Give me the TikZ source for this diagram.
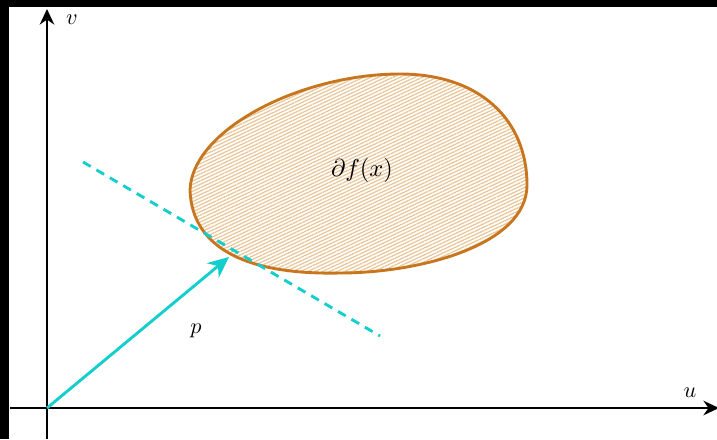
\documentclass[tikz,border=0pt]{standalone}
\usetikzlibrary{arrows.meta,patterns.meta}
\definecolor{cyanarrow}{RGB}{20,205,205}
\definecolor{blobedge}{RGB}{200,118,30}
\definecolor{hatch}{RGB}{232,196,150}
\tikzset{
  axis/.style={line width=1.1pt,-{Stealth[length=7pt,width=6.5pt]}},
  vec/.style={cyanarrow,line width=1.3pt,-{Stealth[length=9.5pt,width=8.5pt]}},
  tangent/.style={cyanarrow,line width=1.3pt,dash pattern=on 4pt off 3pt},
  blob/.style={blobedge,line width=1.3pt,pattern={Lines[angle=25,distance=1.4pt,line width=0.55pt]},pattern color=hatch},
  lbl/.style={inner sep=0pt}
}
\begin{document}
\begin{tikzpicture}[x=0.45pt,y=-0.45pt]
\useasboundingbox (0,0) rectangle (717,439);
% screenshot frame bands
\fill[black] (0,0) rectangle (717,7);
\fill[black] (0,0) rectangle (9,439);
% blob
\draw[blob] (190,190) .. controls (192,130) and (300,74) .. (400,74)
  .. controls (480,74) and (527,120) .. (527,185)
  .. controls (527,245) and (420,273) .. (340,273)
  .. controls (250,275) and (192,250) .. cycle;
\node[lbl,scale=1.1] (df) at (362,170) {$\partial f(x)$};
% axes
\coordinate (o) at (47,408);
\coordinate (ustart) at (10,408);
\coordinate (uend) at (719,408);
\coordinate (vstart) at (47,439);
\coordinate (vend) at (47,9);
\draw[axis] (ustart) -- (uend);
\draw[axis] (vstart) -- (vend);
\node[lbl] (u) at (690,393) {$u$};
\node[lbl] (v) at (72,20) {$v$};
% tangent line
\coordinate (t1) at (83,162);
\coordinate (t2) at (380,336);
\draw[tangent] (t1) -- (t2);
% vector p
\coordinate (ptip) at (229,257);
\draw[vec] (o) -- (ptip);
\node[lbl] (p) at (196,331) {$p$};
\end{tikzpicture}
\end{document}
